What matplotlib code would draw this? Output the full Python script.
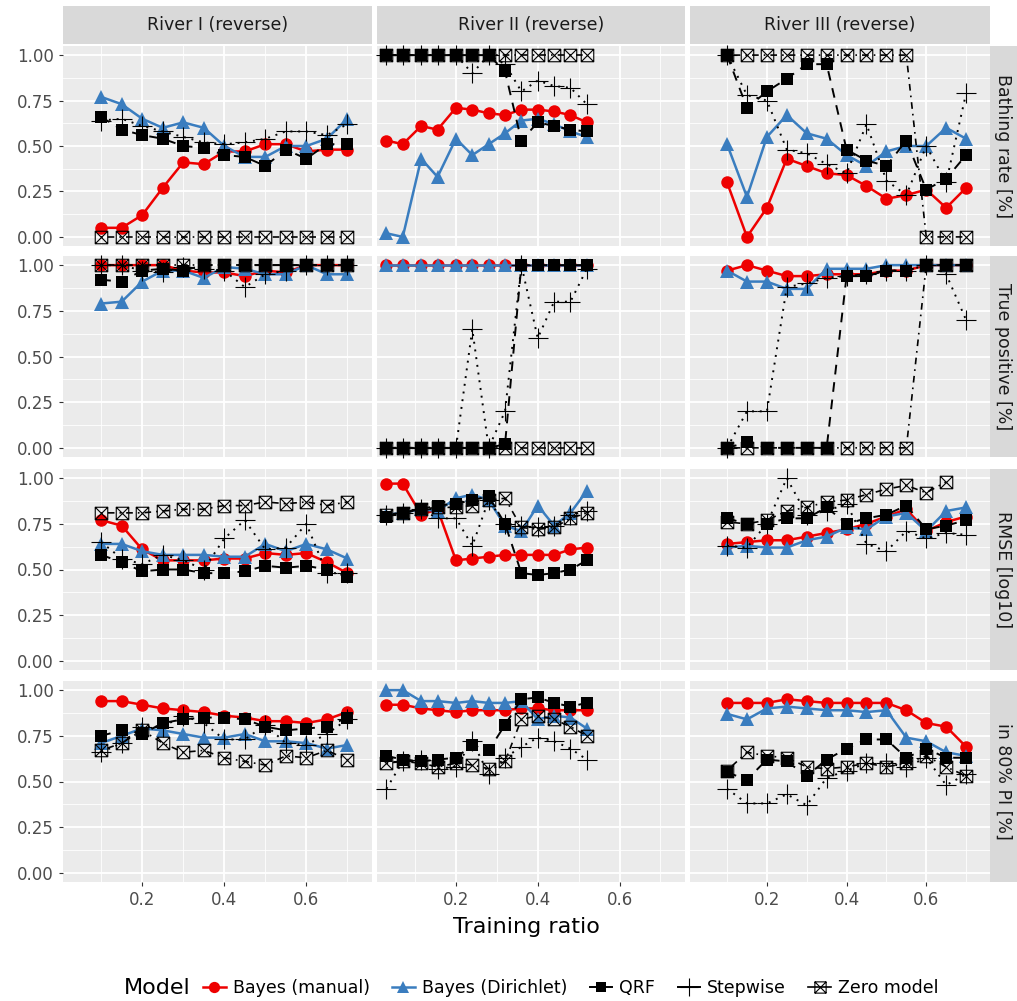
import matplotlib
matplotlib.use("Agg")
import matplotlib.pyplot as plt
import numpy as np
from matplotlib.path import Path
from matplotlib.lines import Line2D

# x positions per river
x_r1 = [0.1, 0.15, 0.2, 0.25, 0.3, 0.35, 0.4, 0.45, 0.5, 0.55, 0.6, 0.65, 0.7]
x_r2 = [0.03, 0.07, 0.115, 0.155, 0.2, 0.24, 0.28, 0.32, 0.36, 0.4, 0.44, 0.48, 0.52]
x_r3 = x_r1

rivers = ["River I (reverse)", "River II (reverse)", "River III (reverse)"]
metrics = ["Bathing rate [%]", "True positive [%]", "RMSE [log10]", "in 80% PI [%]"]
models = ["Bayes (manual)", "Bayes (Dirichlet)", "QRF", "Stepwise", "Zero model"]
nan = np.nan

# ---- Bathing rate ----
bath_r1 = {
    "Bayes (manual)": [0.05, 0.05, 0.12, 0.27, 0.41, 0.40, 0.47, 0.47, 0.51, 0.51, 0.47, 0.48, 0.48],
    "Bayes (Dirichlet)": [0.77, 0.73, 0.65, 0.60, 0.63, 0.60, 0.50, 0.44, 0.44, 0.50, 0.50, 0.54, 0.65],
    "QRF": [0.66, 0.59, 0.56, 0.54, 0.50, 0.49, 0.45, 0.44, 0.39, 0.48, 0.43, 0.51, 0.51],
    "Stepwise": [0.64, 0.65, 0.61, 0.58, 0.55, 0.52, 0.51, 0.52, 0.54, 0.58, 0.58, 0.56, 0.62],
    "Zero model": [0] * 13,
}
bath_r2 = {
    "Bayes (manual)": [0.53, 0.51, 0.61, 0.59, 0.71, 0.70, 0.68, 0.67, 0.70, 0.70, 0.69, 0.67, 0.63],
    "Bayes (Dirichlet)": [0.02, 0.0, 0.43, 0.33, 0.54, 0.45, 0.51, 0.57, 0.64, 0.65, 0.62, 0.58, 0.55],
    "QRF": [1, 1, 1, 1, 1, 1, 1, 0.91, 0.53, 0.63, 0.61, 0.59, 0.58],
    "Stepwise": [1, 1, 1, 1, 1, 0.90, 1.0, 0.95, 0.80, 0.86, 0.83, 0.82, 0.73],
    "Zero model": [1] * 13,
}
bath_r3 = {
    "Bayes (manual)": [0.30, 0.0, 0.16, 0.43, 0.39, 0.35, 0.34, 0.28, 0.21, 0.23, 0.26, 0.16, 0.27],
    "Bayes (Dirichlet)": [0.51, 0.22, 0.55, 0.67, 0.57, 0.54, 0.45, 0.39, 0.47, 0.50, 0.50, 0.60, 0.54],
    "QRF": [1.0, 0.71, 0.80, 0.87, 0.95, 0.95, 0.48, 0.42, 0.39, 0.53, 0.26, 0.32, 0.45],
    "Stepwise": [1.0, 0.78, 0.75, 0.48, 0.46, 0.40, 0.35, 0.62, 0.31, 0.23, 0.50, 0.30, 0.79],
    "Zero model": [1] * 10 + [0] * 3,
}

# ---- True positive ----
tp_r1 = {
    "Bayes (manual)": [1, 1, 1, 1, 0.97, 0.96, 0.96, 0.94, 0.97, 0.96, 1, 1, 1],
    "Bayes (Dirichlet)": [0.79, 0.80, 0.91, 0.97, 0.97, 0.93, 0.99, 0.98, 0.95, 0.95, 1, 0.95, 0.95],
    "QRF": [0.92, 0.91, 0.97, 0.98, 0.97, 1, 1, 1, 1, 1, 1, 1, 1],
    "Stepwise": [1, 1, 0.97, 0.96, 0.99, 0.98, 0.97, 0.88, 0.95, 0.97, 1, 1, 1],
    "Zero model": [1] * 13,
}
tp_r2 = {
    "Bayes (manual)": [1] * 13,
    "Bayes (Dirichlet)": [1] * 13,
    "QRF": [0, 0, 0, 0, 0, 0, 0, 0.02, 1, 1, 1, 1, 1],
    "Stepwise": [0, 0, 0, 0, 0, 0.65, 0, 0.20, 1.0, 0.60, 0.80, 0.80, 0.98],
    "Zero model": [0] * 13,
}
tp_r3 = {
    "Bayes (manual)": [0.97, 1.0, 0.97, 0.94, 0.94, 0.95, 0.95, 0.95, 0.97, 0.97, 1, 1, 1],
    "Bayes (Dirichlet)": [0.97, 0.91, 0.91, 0.87, 0.87, 0.98, 0.98, 0.98, 1, 1, 1, 1, 1],
    "QRF": [0, 0.03, 0, 0, 0, 0, 0.94, 0.94, 0.97, 0.97, 1, 1, 1],
    "Stepwise": [0, 0.20, 0.20, 0.88, 0.90, 0.93, 0.94, 0.95, 0.97, 0.97, 1, 0.95, 0.70],
    "Zero model": [0] * 10 + [1] * 3,
}

# ---- RMSE ----
rmse_r1 = {
    "Bayes (manual)": [0.77, 0.74, 0.61, 0.55, 0.55, 0.55, 0.56, 0.56, 0.59, 0.58, 0.59, 0.54, 0.48],
    "Bayes (Dirichlet)": [0.64, 0.64, 0.60, 0.58, 0.58, 0.58, 0.57, 0.57, 0.64, 0.60, 0.64, 0.61, 0.56],
    "QRF": [0.58, 0.54, 0.49, 0.50, 0.50, 0.48, 0.48, 0.49, 0.52, 0.51, 0.52, 0.50, 0.46],
    "Stepwise": [0.65, 0.56, 0.53, 0.58, 0.55, 0.50, 0.67, 0.77, 0.61, 0.62, 0.75, 0.48, 0.48],
    "Zero model": [0.81, 0.81, 0.81, 0.82, 0.83, 0.83, 0.85, 0.85, 0.87, 0.86, 0.87, 0.85, 0.87],
}
rmse_r2 = {
    "Bayes (manual)": [0.97, 0.97, 0.80, 0.83, 0.55, 0.56, 0.57, 0.58, 0.58, 0.58, 0.58, 0.61, 0.62],
    "Bayes (Dirichlet)": [0.80, 0.81, 0.83, 0.82, 0.89, 0.91, 0.88, 0.74, 0.71, 0.85, 0.74, 0.81, 0.93],
    "QRF": [0.79, 0.81, 0.83, 0.85, 0.86, 0.88, 0.90, 0.75, 0.48, 0.47, 0.48, 0.50, 0.55],
    "Stepwise": [0.80, 0.81, 0.83, 0.78, 0.78, 0.63, 0.88, 0.75, 0.74, 0.73, 0.74, 0.80, 0.82],
    "Zero model": [0.80, 0.81, 0.83, 0.84, 0.84, 0.85, 0.88, 0.89, 0.73, 0.72, 0.73, 0.78, 0.81],
}
rmse_r3 = {
    "Bayes (manual)": [0.64, 0.65, 0.66, 0.66, 0.68, 0.70, 0.72, 0.75, 0.79, 0.83, 0.71, 0.76, 0.79],
    "Bayes (Dirichlet)": [0.62, 0.63, 0.62, 0.62, 0.66, 0.68, 0.73, 0.72, 0.79, 0.81, 0.71, 0.82, 0.84],
    "QRF": [0.78, 0.75, 0.75, 0.78, 0.78, 0.84, 0.75, 0.78, 0.80, 0.85, 0.72, 0.74, 0.77],
    "Stepwise": [0.63, 0.62, 0.75, 1.0, 0.80, 0.82, 0.86, 0.64, 0.60, 0.71, 0.67, 0.70, 0.69],
    "Zero model": [0.76, 0.75, 0.77, 0.82, 0.84, 0.87, 0.88, 0.91, 0.94, 0.96, 0.92, 0.98, nan],
}

# ---- in 80% PI ----
pi_r1 = {
    "Bayes (manual)": [0.94, 0.94, 0.92, 0.90, 0.89, 0.88, 0.86, 0.85, 0.83, 0.83, 0.82, 0.84, 0.88],
    "Bayes (Dirichlet)": [0.71, 0.75, 0.79, 0.78, 0.76, 0.74, 0.74, 0.76, 0.72, 0.72, 0.71, 0.68, 0.70],
    "QRF": [0.75, 0.78, 0.76, 0.82, 0.84, 0.85, 0.85, 0.84, 0.80, 0.78, 0.79, 0.80, 0.85],
    "Stepwise": [0.66, 0.71, 0.80, 0.80, 0.86, 0.82, 0.73, 0.73, 0.81, 0.71, 0.70, 0.76, 0.84],
    "Zero model": [0.67, 0.71, 0.78, 0.71, 0.66, 0.67, 0.63, 0.61, 0.59, 0.64, 0.63, 0.67, 0.62],
}
pi_r2 = {
    "Bayes (manual)": [0.92, 0.92, 0.90, 0.89, 0.88, 0.89, 0.89, 0.89, 0.90, 0.90, 0.89, 0.89, 0.89],
    "Bayes (Dirichlet)": [1.0, 1.0, 0.94, 0.94, 0.93, 0.94, 0.93, 0.93, 0.94, 0.84, 0.86, 0.85, 0.79],
    "QRF": [0.64, 0.62, 0.61, 0.62, 0.63, 0.70, 0.67, 0.81, 0.95, 0.96, 0.93, 0.91, 0.93],
    "Stepwise": [0.46, 0.61, 0.62, 0.57, 0.58, 0.72, 0.54, 0.63, 0.69, 0.74, 0.72, 0.68, 0.62],
    "Zero model": [0.60, 0.61, 0.60, 0.58, 0.60, 0.59, 0.57, 0.61, 0.84, 0.86, 0.84, 0.80, 0.75],
}
pi_r3 = {
    "Bayes (manual)": [0.93, 0.93, 0.93, 0.95, 0.94, 0.93, 0.93, 0.93, 0.93, 0.89, 0.82, 0.80, 0.69],
    "Bayes (Dirichlet)": [0.87, 0.84, 0.90, 0.91, 0.90, 0.89, 0.89, 0.88, 0.89, 0.74, 0.72, 0.66, 0.64],
    "QRF": [0.55, 0.51, 0.62, 0.61, 0.53, 0.62, 0.68, 0.73, 0.73, 0.63, 0.68, 0.63, 0.63],
    "Stepwise": [0.46, 0.38, 0.38, 0.43, 0.37, 0.52, 0.56, 0.60, 0.60, 0.58, 0.63, 0.48, 0.54],
    "Zero model": [0.56, 0.66, 0.64, 0.63, 0.58, 0.57, 0.58, 0.60, 0.58, 0.60, 0.64, 0.58, 0.53],
}

xs = [x_r1, x_r2, x_r3]
grid_data = [
    [bath_r1, bath_r2, bath_r3],
    [tp_r1, tp_r2, tp_r3],
    [rmse_r1, rmse_r2, rmse_r3],
    [pi_r1, pi_r2, pi_r3],
]

# square with a cross inside
box_x = Path([(-1, -1), (1, -1), (1, 1), (-1, 1), (-1, -1), (-1, -1), (1, 1), (-1, 1), (1, -1)],
             [Path.MOVETO, Path.LINETO, Path.LINETO, Path.LINETO, Path.CLOSEPOLY,
              Path.MOVETO, Path.LINETO, Path.MOVETO, Path.LINETO])

style = {
    "Bayes (manual)": dict(color="#ee0000", marker="o", ls="-", lw=1.8, ms=9, mfc="#ee0000", mew=0),
    "Bayes (Dirichlet)": dict(color="#3a7dbf", marker="^", ls="-", lw=1.8, ms=10, mfc="#3a7dbf", mew=0),
    "QRF": dict(color="black", marker="s", ls=(0, (5, 4)), lw=1.4, ms=8, mfc="black", mew=0),
    "Stepwise": dict(color="black", marker="+", ls=(0, (1, 3)), lw=1.4, ms=15, mfc="black", mew=0.8),
    "Zero model": dict(color="black", marker=box_x, ls=(0, (1, 3, 4, 3)), lw=1.2, ms=9, mfc="none", mew=0.8),
}

W, H = 1017, 1001
fig = plt.figure(figsize=(W / 100, H / 100), dpi=100)

col_px = [(63, 372), (377, 685), (690, 990)]
row_px = [(46, 246), (256, 457), (469, 670), (681, 882)]
bg = "#ebebeb"
strip_bg = "#d9d9d9"

def px_ax(x0, y0, x1, y1):
    return fig.add_axes([x0 / W, 1 - y1 / H, (x1 - x0) / W, (y1 - y0) / H])

for r, (y0, y1) in enumerate(row_px):
    for c, (x0, x1) in enumerate(col_px):
        ax = px_ax(x0, y0, x1, y1)
        ax.set_facecolor(bg)
        for s in ax.spines.values():
            s.set_visible(False)
        ax.set_xlim(0.007, 0.76)
        ax.set_ylim(-0.05, 1.05)
        ax.set_xticks([0.2, 0.4, 0.6])
        ax.set_xticks([0.1, 0.3, 0.5, 0.7], minor=True)
        ax.set_yticks([0, 0.25, 0.5, 0.75, 1.0])
        ax.set_yticks([0.125, 0.375, 0.625, 0.875], minor=True)
        ax.grid(which="major", color="white", lw=1.3)
        ax.grid(which="minor", color="white", lw=0.6)
        ax.set_axisbelow(True)
        ax.tick_params(which="both", length=0, labelsize=12, labelcolor="#4d4d4d")
        ax.tick_params(which="major", length=3, color="#333333")
        if c == 0:
            ax.set_yticklabels(["0.00", "0.25", "0.50", "0.75", "1.00"])
        else:
            ax.tick_params(axis="y", which="major", length=0)
            ax.set_yticklabels([])
        if r == 3:
            ax.set_xticklabels(["0.2", "0.4", "0.6"])
        else:
            ax.tick_params(axis="x", which="major", length=0)
            ax.set_xticklabels([])
        for m in models:
            st = style[m]
            ax.plot(xs[c], grid_data[r][c][m], color=st["color"], ls=st["ls"], lw=st["lw"],
                    marker=st["marker"], ms=st["ms"], mfc=st["mfc"], mec=st["color"],
                    mew=st["mew"], clip_on=False)
        if c == 2:
            sax = px_ax(990, y0, 1017, y1)
            sax.set_facecolor(strip_bg)
            sax.set_xticks([]); sax.set_yticks([])
            for s in sax.spines.values():
                s.set_visible(False)
            sax.text(0.5, 0.5, metrics[r], rotation=-90, ha="center", va="center",
                     fontsize=12.5, color="#1a1a1a", transform=sax.transAxes)
        if r == 0:
            tax = px_ax(x0, 6, x1, 44)
            tax.set_facecolor(strip_bg)
            tax.set_xticks([]); tax.set_yticks([])
            for s in tax.spines.values():
                s.set_visible(False)
            tax.text(0.5, 0.5, rivers[c], ha="center", va="center",
                     fontsize=12.5, color="#1a1a1a", transform=tax.transAxes)

fig.text(526 / W, 1 - 927 / H, "Training ratio", ha="center", va="center", fontsize=16)

# legend: title as separate text on the left, short key segments
fig.text(124 / W, 1 - 988 / H, "Model", ha="left", va="center", fontsize=16)
handles = []
for m in models:
    st = style[m]
    handles.append(Line2D([0], [0], color=st["color"], ls="-", lw=st["lw"],
                          marker=st["marker"], ms=st["ms"] * 0.9, mfc=st["mfc"],
                          mec=st["color"], mew=st["mew"]))
fig.legend(handles, models, loc="center left", bbox_to_anchor=(203 / W, 1 - 988 / H), ncol=5,
           frameon=False, fontsize=12.5, handlelength=1.3, columnspacing=1.3,
           handletextpad=0.4, borderaxespad=0, borderpad=0)

fig.savefig("out.png", dpi=100)
